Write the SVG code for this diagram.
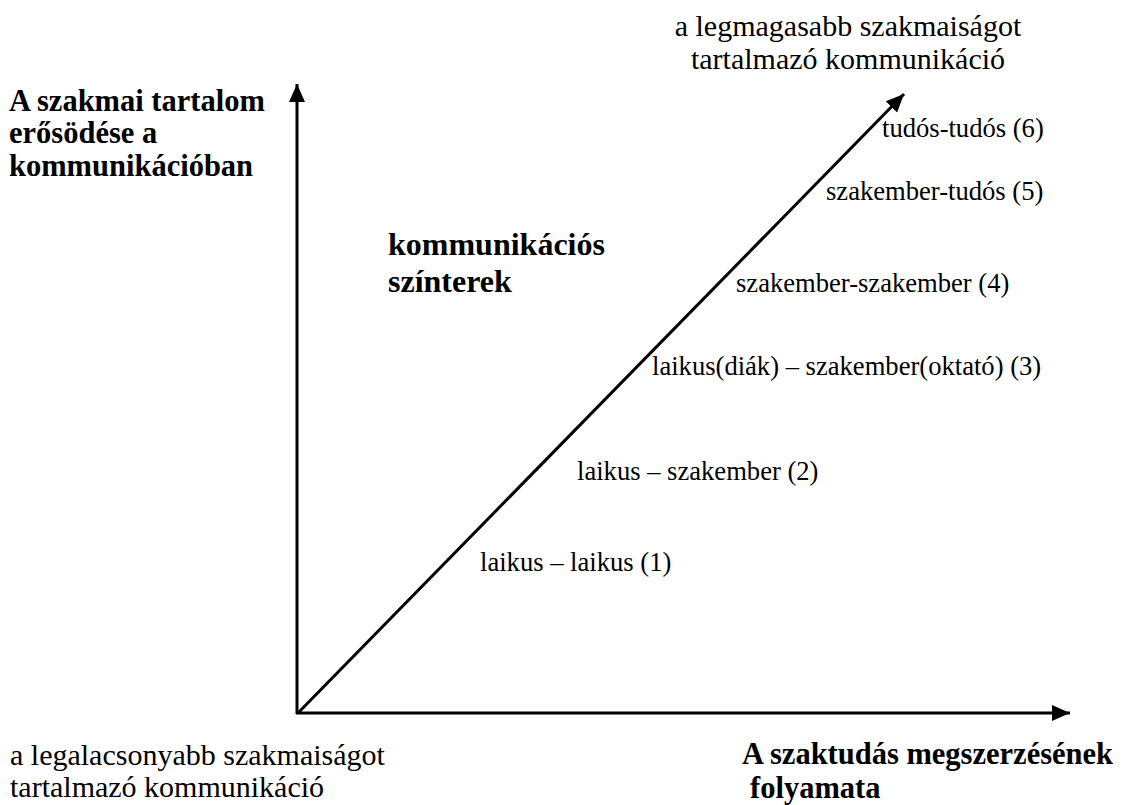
<svg xmlns="http://www.w3.org/2000/svg" width="1122" height="805" viewBox="0 0 1122 805">
<style>
text{font-family:"Liberation Serif","Times New Roman",serif;font-size:26.6px;fill:#000}
.b{font-weight:bold;font-size:30.5px}
.t{font-size:32px}
.xl{font-size:30.5px}
.l{font-size:30px}
.ax{stroke:#000;stroke-width:3;fill:none}
</style>
<defs>
<marker id="ah" markerUnits="userSpaceOnUse" markerWidth="18" markerHeight="18" viewBox="0 0 18 16" refX="18" refY="8" orient="auto">
<path d="M0,0 L18,8 L0,16 Z" fill="#000"/>
</marker>
</defs>
<rect width="1122" height="805" fill="#fff"/>
<g id="connectors">
<line class="ax" x1="297" y1="714" x2="297" y2="84" marker-end="url(#ah)"/>
<line class="ax" x1="296" y1="713" x2="1070" y2="713" marker-end="url(#ah)"/>
<line class="ax" x1="298" y1="713" x2="904" y2="94" marker-end="url(#ah)"/>
</g>
<g id="top-label"><text class="l" x="848" y="36" text-anchor="middle">a legmagasabb szakmaiságot</text><text class="l" x="848" y="69" text-anchor="middle">tartalmazó kommunikáció</text></g>
<g id="y-axis-label"><text class="b" x="9" y="111">A szakmai tartalom</text><text class="b" x="9" y="143">erősödése a</text><text class="b" x="9" y="176">kommunikációban</text></g>
<g id="n6"><text x="882" y="137">tudós-tudós (6)</text></g>
<g id="n5"><text x="826" y="200">szakember-tudós (5)</text></g>
<g id="title"><text class="b t" x="388" y="255">kommunikációs</text><text class="b t" x="388" y="292">színterek</text></g>
<g id="n4"><text x="736" y="292">szakember-szakember (4)</text></g>
<g id="n3"><text x="652" y="375">laikus(diák) – szakember(oktató) (3)</text></g>
<g id="n2"><text x="577" y="480">laikus – szakember (2)</text></g>
<g id="n1"><text x="480" y="571">laikus – laikus (1)</text></g>
<g id="bottom-label"><text class="l" x="10" y="765">a legalacsonyabb szakmaiságot</text><text class="l" x="10" y="797">tartalmazó kommunikáció</text></g>
<g id="x-axis-label"><text class="b xl" x="742" y="764">A szaktudás megszerzésének</text><text class="b xl" x="750" y="798">folyamata</text></g>
</svg>
